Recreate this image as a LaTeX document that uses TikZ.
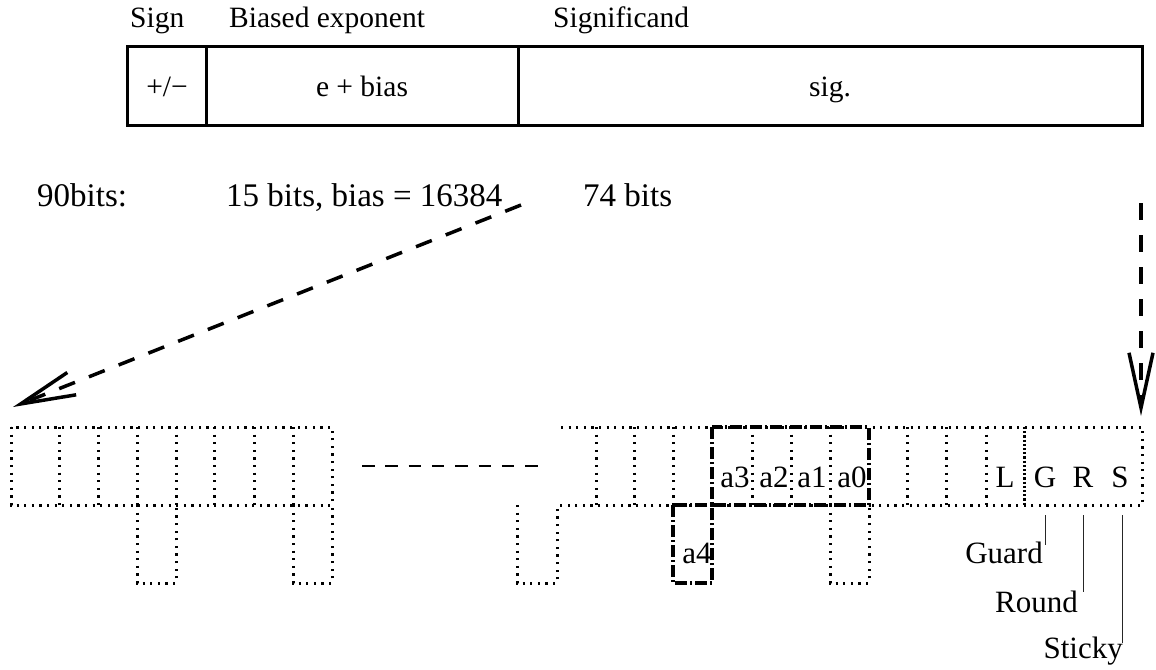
\documentclass[tikz,border=0pt]{standalone}
\usepackage{fontspec}
\setmainfont{Liberation Serif}
\usetikzlibrary{arrows.meta}
\begin{document}
\begin{tikzpicture}[x=1pt,y=-1pt,
  lbl/.style={inner sep=0pt, font=\fontsize{29.5}{34}\selectfont},
  biglbl/.style={inner sep=0pt, font=\fontsize{33}{38}\selectfont},
  bitlbl/.style={inner sep=0pt, font=\fontsize{31}{36}\selectfont},
  thickbox/.style={line width=3pt},
  dotline/.style={line width=3pt, dash pattern=on 2.2pt off 5.4pt},
  densedot/.style={line width=3pt, dash pattern=on 2.2pt off 2pt},
  dashdotline/.style={line width=3.2pt, dash pattern=on 12pt off 3pt on 2pt off 3pt},
  bigarrow/.style={line width=3.5pt, dash pattern=on 17pt off 15pt, -{Straight Barb[length=55pt,width=24pt]}},
  leader/.style={line width=0.8pt, draw=black!85},
  gapline/.style={line width=1.5pt, dash pattern=on 12.5pt off 10.8pt}
]
\useasboundingbox (0,0) rectangle (1156,669);
% top format box
\draw[thickbox] (127,47) rectangle (1142,125);
\draw[thickbox] (206,47) -- (206,125);
\draw[thickbox] (518,47) -- (518,125);
\node[lbl, anchor=base west] (hsign) at (130,28) {Sign};
\node[lbl, anchor=base west] (hexp) at (229,28) {Biased exponent};
\node[lbl, anchor=base west] (hsig) at (553,28) {Significand};
\node[lbl, anchor=base] (fsign) at (167,96) {+/−};
\node[lbl, anchor=base] (fexp) at (362,96) {e + bias};
\node[lbl, anchor=base] (fsig) at (830,96) {sig.};
\node[biglbl, anchor=base west] (w90) at (37,206) {90bits:};
\node[biglbl, anchor=base west] (w15) at (226,206) {15 bits, bias = 16384};
\node[biglbl, anchor=base west] (w74) at (583,206) {74 bits};
% arrows
\coordinate (a1s) at (521,205);
\coordinate (a1e) at (13,407);
\coordinate (a2s) at (1141,203);
\coordinate (a2e) at (1141,416);
\draw[bigarrow] (a1s) -- (a1e);
\draw[bigarrow] (a2s) -- (a2e);
% left group of bits
\draw[dotline] (11,427) rectangle (332,505);
\foreach \x in {59,98,137,176,214,254,293} \draw[dotline] (\x,427) -- (\x,505);
\draw[dotline] (137,505) -- (137,583) -- (176,583) -- (176,505);
\draw[dotline] (293,505) -- (293,583) -- (332,583) -- (332,505);
% gap
\coordinate (gs) at (362,466);
\coordinate (ge) at (538,466);
\draw[gapline] (gs) -- (ge);
% right group of bits
\draw[dotline] (561,427) -- (1142,427) -- (1142,505) -- (557,505);
\foreach \x in {596,634,673,752,791,830,907,946,986} \draw[dotline] (\x,427) -- (\x,505);
\draw[densedot] (1024,427) -- (1024,505);
\draw[dotline] (517,505) -- (517,583) -- (557,583) -- (557,505);
\draw[dotline] (830,505) -- (830,583) -- (869,583) -- (869,505);
\draw[dashdotline] (673,505) rectangle (712,583);
\draw[dashdotline] (712,427) rectangle (869,505);
\node[bitlbl, anchor=base] (ba3) at (735,487) {a3};
\node[bitlbl, anchor=base] (ba2) at (774,487) {a2};
\node[bitlbl, anchor=base] (ba1) at (812,487) {a1};
\node[bitlbl, anchor=base] (ba0) at (852,487) {a0};
\node[bitlbl, anchor=base] (ba4) at (697,563) {a4};
\node[bitlbl, anchor=base] (bL) at (1005,487) {L};
\node[bitlbl, anchor=base] (bG) at (1045,487) {G};
\node[bitlbl, anchor=base] (bR) at (1083,487) {R};
\node[bitlbl, anchor=base] (bS) at (1120,487) {S};
\node[bitlbl, anchor=base east] (guard) at (1043,563) {Guard};
\node[bitlbl, anchor=base east] (round) at (1078,612) {Round};
\node[bitlbl, anchor=base east] (sticky) at (1123,658) {Sticky};
\coordinate (gt) at (1045,515);
\coordinate (gb) at (1045,545);
\coordinate (rt) at (1083,515);
\coordinate (rb) at (1083,592);
\coordinate (st) at (1122,515);
\coordinate (sb) at (1122,643);
\draw[leader] (gt) -- (gb);
\draw[leader] (rt) -- (rb);
\draw[leader] (st) -- (sb);
\end{tikzpicture}
\end{document}
